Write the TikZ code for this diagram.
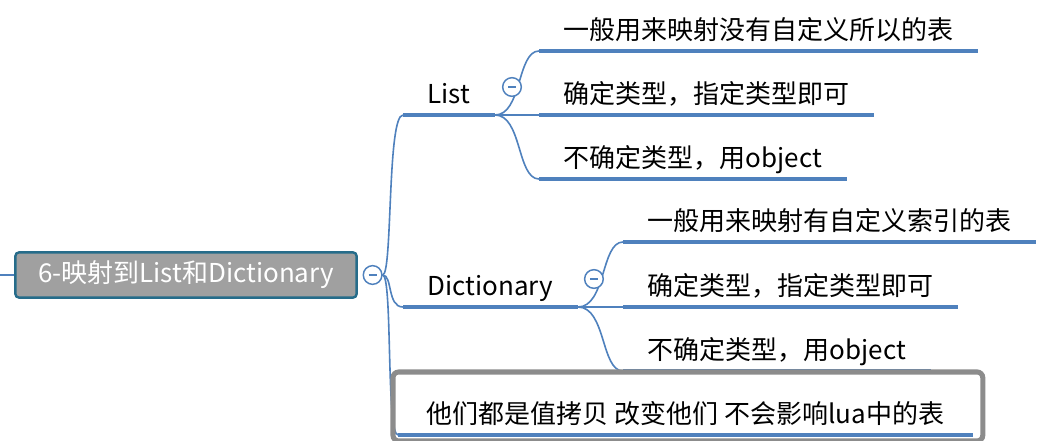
\documentclass[tikz,border=0pt]{standalone}
\usepackage{fontspec}
\setmainfont{Noto Sans CJK SC}
\usetikzlibrary{positioning}
\tikzset{every picture/.style={line width=1pt}}
\definecolor{mm-blue}{RGB}{79,129,189}
\definecolor{mm-gray}{RGB}{160,160,160}
\definecolor{mm-teal}{RGB}{38,108,138}
\definecolor{mm-frame}{RGB}{140,140,140}

\begin{document}
\begin{tikzpicture}
    [x=0.75pt, y=-0.75pt,
    root/.style = {rectangle, draw=mm-teal, fill=mm-gray, line width=1.8pt, text=white,
            minimum width=256pt, minimum height=34pt, rounded corners=0.1cm,
            font=\fontsize{19.5pt}{23pt}\selectfont},
    topic/.style = {rectangle, anchor=south west, inner xsep=18pt, inner ysep=4pt,
            text height=15pt, text depth=4pt, font=\fontsize{19.5pt}{23pt}\selectfont},
    bar/.style = {draw=mm-blue, line width=3.2pt},
    link/.style = {draw=mm-blue, line width=1.2pt},
    frame/.style = {draw=mm-frame, line width=3.8pt, rounded corners=0.15cm},
    fold/.style = {circle, draw=mm-blue, fill=white, line width=1.1pt, minimum size=14pt, inner sep=0pt,
            path picture={\draw[mm-blue, line width=0.9pt] ([xshift=-3pt]path picture bounding box.center)
            -- ([xshift=3pt]path picture bounding box.center);}},
    ]

\useasboundingbox (0,0) rectangle (1062,441);
\fill[white] (0,0) rectangle (1062,441);

\coordinate (edge) at (0,275);
\node[root] (root) at (186,275) {6-映射到List和Dictionary};
\node[fold, right=3.5pt of root] (fr) {};

\node[topic] (list) at (403,115) {List};
\node[topic] (dict) at (403,307) {Dictionary};
\node[topic, inner xsep=21pt] (note) at (398,435) {他们都是值拷贝 改变他们 不会影响lua中的表};

\node[topic] (l1) at (539,51) {一般用来映射没有自定义所以的表};
\node[topic] (l2) at (539,115) {确定类型，指定类型即可};
\node[topic] (l3) at (539,179) {不确定类型，用object};

\node[topic] (d1) at (623,242) {一般用来映射有自定义索引的表};
\node[topic] (d2) at (623,307) {确定类型，指定类型即可};
\node[topic] (d3) at (623,371) {不确定类型，用object};

\draw[link] (edge) -- (root);
\draw[link] (fr.east) .. controls +(10,0) and +(-16,0) .. (list.south west);
\draw[link] (fr.east) .. controls +(10,0) and +(-16,0) .. (dict.south west);
\draw[link] (fr.east) .. controls +(10,0) and +(-12,0) .. (note.south west);

\draw[link] (list.south east) .. controls +(27,0) and +(-22,0) .. (l1.south west);
\draw[link] (list.south east) -- (l2.south west);
\draw[link] (list.south east) .. controls +(27,0) and +(-22,0) .. (l3.south west);

\draw[link] (dict.south east) .. controls +(28,0) and +(-22,0) .. (d1.south west);
\draw[link] (dict.south east) -- (d2.south west);
\draw[link] (dict.south east) .. controls +(28,0) and +(-22,0) .. (d3.south west);

\foreach \n in {list, dict, l1, l2, l3, d1, d2, d3}
    \draw[bar] (\n.south west) -- (\n.south east);

\draw[frame] ([shift={(-5,-63)}]note.south west) rectangle ([shift={(10,6)}]note.south east);
\draw[bar] (note.south west) -- (note.south east);

\node[fold] (fl) at ([shift={(17,-28)}]list.south east) {};
\node[fold] (fd) at ([shift={(16,-28)}]dict.south east) {};

\end{tikzpicture}
\end{document}
